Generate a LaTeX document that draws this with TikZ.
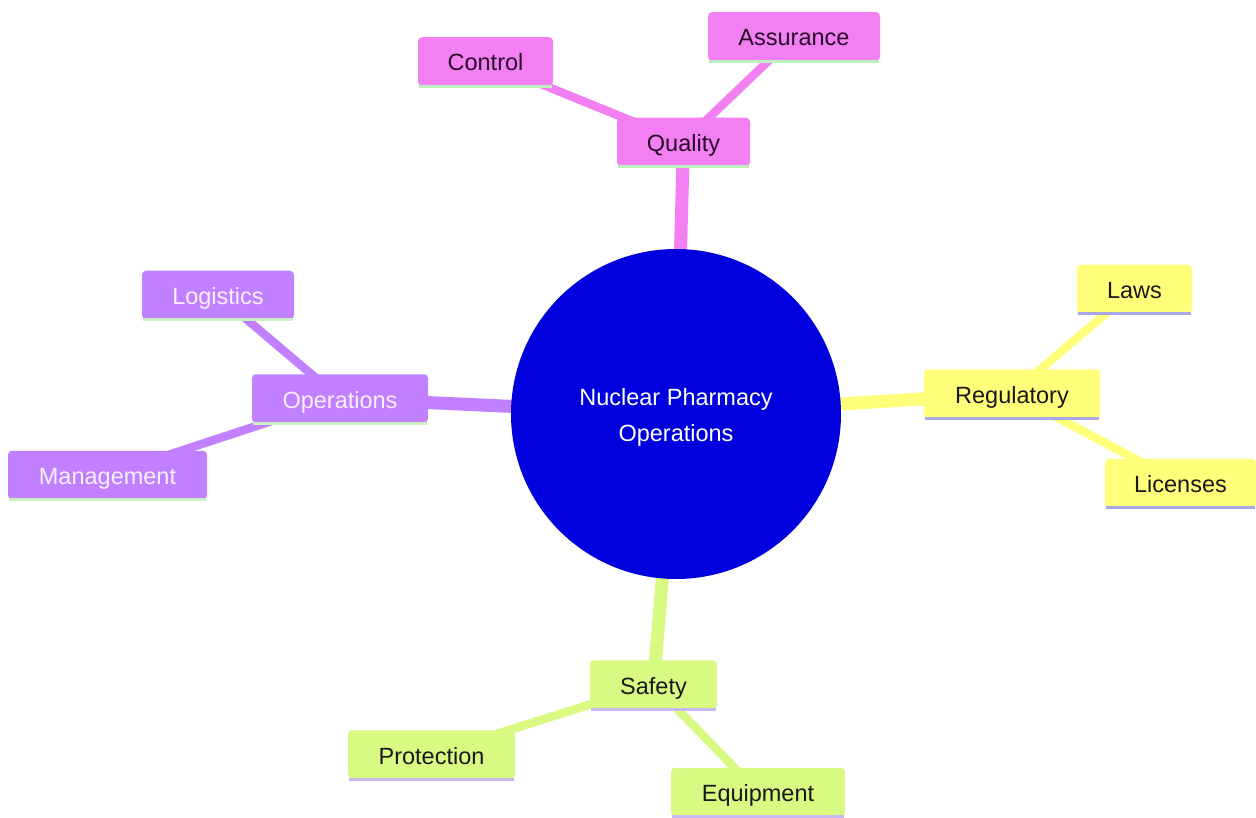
\documentclass[tikz,border=0pt]{standalone}
\usepackage{fontspec}
\setmainfont{Liberation Sans}
\usetikzlibrary{backgrounds}
\definecolor{qcol}{RGB}{242,128,242}
\definecolor{ocol}{RGB}{192,128,255}
\definecolor{rcol}{RGB}{255,255,122}
\definecolor{scol}{RGB}{216,250,130}
\definecolor{rootcol}{RGB}{0,0,222}
\definecolor{qline}{RGB}{190,240,190}
\definecolor{oline}{RGB}{205,240,195}
\definecolor{rline}{RGB}{168,168,232}
\definecolor{sline}{RGB}{200,184,240}
\definecolor{qtext}{RGB}{40,10,40}
\definecolor{otext}{RGB}{248,240,255}
\tikzset{
  x=1pt, y=-1pt,
  mmbox/.style={rectangle, rounded corners=4pt, inner xsep=0pt, inner ysep=0pt,
    text height=23pt, text depth=4pt,
    minimum height=48.5pt, font=\fontsize{23.5}{28}\selectfont},
  qbox/.style={mmbox, fill=qcol, text=qtext},
  obox/.style={mmbox, fill=ocol, text=otext},
  rbox/.style={mmbox, fill=rcol, text=black!90},
  sbox/.style={mmbox, fill=scol, text=black!90},
  rootnode/.style={circle, fill=rootcol, minimum size=330pt, inner sep=0pt},
  roottextstyle/.style={inner sep=0pt, text=white, align=center, font=\fontsize{23.5}{36}\selectfont},
  mainedge/.style={line width=13pt},
  subedge/.style={line width=8.5pt},
}
\newcommand{\uline}[2]{\draw[line width=3pt, #2] ([xshift=1pt,yshift=-0.5pt]#1.south west) -- ([xshift=-1pt,yshift=-0.5pt]#1.south east);}
\begin{document}
\begin{tikzpicture}
\useasboundingbox (0,0) rectangle (1256,818);
% root
\node[rootnode] (root) at (676,414) {};
\node[roottextstyle] (roottext) at ([yshift=-3pt]root.center) {Nuclear Pharmacy\\Operations};
% quality
\node[qbox, minimum width=133pt] (quality) at (683.5,142) {Quality};
\node[qbox, minimum width=135pt] (control) at (485.5,61.5) {Control};
\node[qbox, minimum width=172pt] (assurance) at (794,36.5) {Assurance};
% operations
\node[obox, minimum width=176pt] (operations) at (340,398.5) {Operations};
\node[obox, minimum width=152pt] (logistics) at (218,295) {Logistics};
\node[obox, minimum width=199pt] (management) at (107.5,475) {Management};
% regulatory
\node[rbox, minimum width=176pt] (regulatory) at (1012,393.5) {Regulatory};
\node[rbox, minimum width=115pt] (laws) at (1134.5,289) {Laws};
\node[rbox, minimum width=151pt] (licenses) at (1180.5,483) {Licenses};
% safety
\node[sbox, minimum width=127pt] (safety) at (653.5,684.5) {Safety};
\node[sbox, minimum width=167pt] (protection) at (431.5,754.5) {Protection};
\node[sbox, minimum width=174pt] (equipment) at (758,792) {Equipment};
% underlines
\uline{quality}{qline}
\uline{control}{qline}
\uline{assurance}{qline}
\uline{operations}{oline}
\uline{logistics}{oline}
\uline{management}{oline}
\uline{regulatory}{rline}
\uline{laws}{rline}
\uline{licenses}{rline}
\uline{safety}{sline}
\uline{protection}{sline}
\uline{equipment}{sline}
\begin{scope}[on background layer]
  \fill[white] (0,0) rectangle (1256,818);
  \draw[mainedge, qcol] (root.center) -- (quality.center);
  \draw[mainedge, ocol] (root.center) -- (operations.center);
  \draw[mainedge, rcol] (root.center) -- (regulatory.center);
  \draw[mainedge, scol] (root.center) -- (safety.center);
  \draw[subedge, qcol] (quality.center) -- (control.center);
  \draw[subedge, qcol] (quality.center) -- (assurance.center);
  \draw[subedge, ocol] (operations.center) -- (logistics.center);
  \draw[subedge, ocol] (operations.center) -- (management.center);
  \draw[subedge, rcol] (regulatory.center) -- (laws.center);
  \draw[subedge, rcol] (regulatory.center) -- (licenses.center);
  \draw[subedge, scol] (safety.center) -- (protection.center);
  \draw[subedge, scol] (safety.center) -- (equipment.center);
\end{scope}
\end{tikzpicture}
\end{document}
